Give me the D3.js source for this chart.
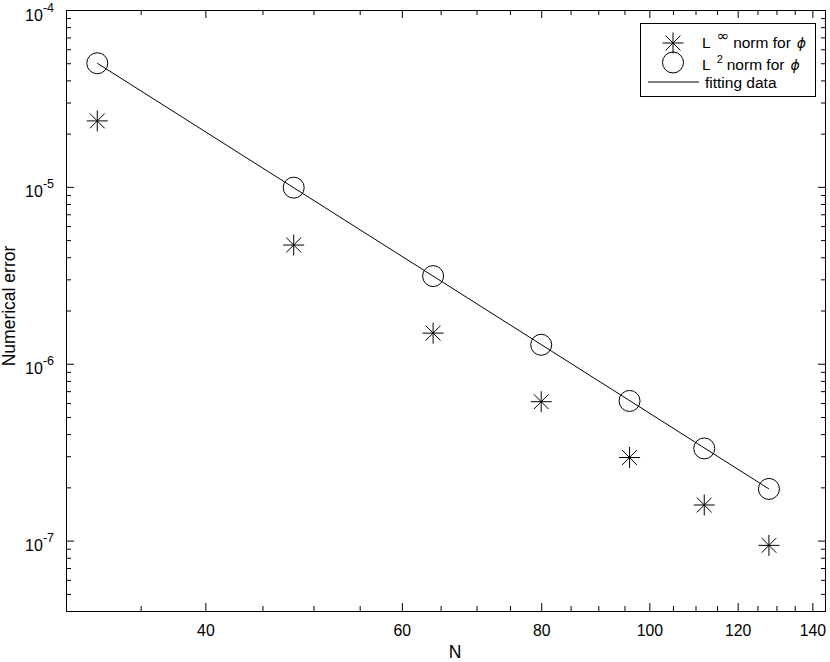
<!DOCTYPE html>
<html><head><meta charset="utf-8">
<script src="https://cdn.jsdelivr.net/npm/d3@7"></script>
<style>
body{margin:0;background:#fff}
text{font-family:"Liberation Sans",Arial,Helvetica,sans-serif;fill:#000}
</style>
</head><body>
<svg id="chart" width="830" height="662"></svg>
<script>
// ---- data ----
const N = [32, 48, 64, 80, 96, 112, 128];
const linfErr = [2.36e-5, 4.69e-6, 1.49e-6, 6.1e-7, 2.95e-7, 1.59e-7, 9.4e-8];
const l2Err = [5.0e-5, 9.9e-6, 3.13e-6, 1.28e-6, 6.16e-7, 3.32e-7, 1.96e-7];
const fitN = [32, 128];
const fitErr = [5.0e-5, 1.96e-7];
const xTickValues = [40, 60, 80, 100, 120, 140];
const xTickLabels = ["40", "60", "80", "100", "120", "140"];
const xMinorTicks = [35, 45, 50, 55, 65, 70, 75, 85, 90, 95, 105, 110, 115, 125, 130, 135];
const yTickExponents = [-7, -6, -5, -4];
const xDomain = [30, 144];
const yDomain = [4e-8, 1e-4];
const legendLabels = ["L|\u221E|norm for|\u03D5", "L|2|norm for|\u03D5", "fitting data"];
const xLabel = "N";
const yLabel = "Numerical error";

// ---- layout ----
const svg = d3.select("#chart");
const L = 66, R = 826, T = 10, B = 611;
const x = d3.scaleLog().domain(xDomain).range([L, R]);
const y = d3.scaleLog().domain(yDomain).range([B, T]);
const FS = 15.8;

const yMajor = yTickExponents.map(e => Math.pow(10, e));
const yMinor = [];
for (let e = -8; e <= -5; e++) for (let m = 2; m <= 9; m++) {
  const v = m * Math.pow(10, e);
  if (v > yDomain[0] * 1.0001 && v < yDomain[1] * 0.9999) yMinor.push(v);
}

function styleAxis(g) {
  g.select(".domain").remove();
  g.selectAll(".tick line").attr("stroke", "#000").attr("stroke-width", 1);
}
const MAJ = 8, MIN = 5;
// bottom
svg.append("g").attr("transform", `translate(0,${B})`)
  .call(d3.axisBottom(x).tickValues(xTickValues).tickSize(-MAJ).tickPadding(14)
    .tickFormat((d, i) => xTickLabels[i]))
  .call(styleAxis)
  .call(g => g.selectAll(".tick text").attr("font-size", FS).attr("font-family", null));
svg.append("g").attr("transform", `translate(0,${B})`)
  .call(d3.axisBottom(x).tickValues(xMinorTicks).tickSize(-MIN).tickFormat(""))
  .call(styleAxis);
// top
svg.append("g").attr("transform", `translate(0,${T})`)
  .call(d3.axisTop(x).tickValues(xTickValues).tickSize(-MAJ).tickFormat(""))
  .call(styleAxis);
svg.append("g").attr("transform", `translate(0,${T})`)
  .call(d3.axisTop(x).tickValues(xMinorTicks).tickSize(-MIN).tickFormat(""))
  .call(styleAxis);
// left
svg.append("g").attr("transform", `translate(${L},0)`)
  .call(d3.axisLeft(y).tickValues(yMajor).tickSize(-MAJ).tickFormat(""))
  .call(styleAxis);
svg.append("g").attr("transform", `translate(${L},0)`)
  .call(d3.axisLeft(y).tickValues(yMinor).tickSize(-MIN).tickFormat(""))
  .call(styleAxis);
// right
svg.append("g").attr("transform", `translate(${R},0)`)
  .call(d3.axisRight(y).tickValues(yMajor).tickSize(-MAJ).tickFormat(""))
  .call(styleAxis);
svg.append("g").attr("transform", `translate(${R},0)`)
  .call(d3.axisRight(y).tickValues(yMinor).tickSize(-MIN).tickFormat(""))
  .call(styleAxis);

// y tick labels 10^k
yTickExponents.forEach(e => {
  const t = svg.append("text").attr("x", 54).attr("y", y(Math.pow(10, e)) + 10.5)
    .attr("text-anchor", "end").attr("font-size", 16);
  t.append("tspan").text("10");
  t.append("tspan").attr("dy", -9).attr("font-size", 12.5).text(String(e));
});

// box
svg.append("rect").attr("x", L + 0.5).attr("y", T + 0.5)
  .attr("width", R - L - 1).attr("height", B - T)
  .attr("fill", "none").attr("stroke", "#000").attr("stroke-width", 1);

// axis labels
svg.append("text").attr("x", (L + R) / 2 + 9).attr("y", 658).attr("text-anchor", "middle")
  .attr("font-size", 17.5).text(xLabel);
svg.append("text").attr("transform", `translate(14.5,306) rotate(-90)`)
  .attr("text-anchor", "middle").attr("font-size", 17.5).text(yLabel);

// fitting line
const line = d3.line().x((d, i) => x(fitN[i])).y(d => y(d));
svg.append("path").datum(fitErr).attr("d", line)
  .attr("fill", "none").attr("stroke", "#000").attr("stroke-width", 1);

// star marker
function star(g, cx, cy, r) {
  const d = r * Math.SQRT1_2;
  const p = `M${cx - r},${cy}L${cx + r},${cy}M${cx},${cy - r}L${cx},${cy + r}` +
    `M${cx - d},${cy - d}L${cx + d},${cy + d}M${cx - d},${cy + d}L${cx + d},${cy - d}`;
  g.append("path").attr("d", p).attr("stroke", "#000").attr("stroke-width", 1).attr("fill", "none");
}
const gStars = svg.append("g");
linfErr.forEach((v, i) => star(gStars, x(N[i]), y(v), 10.5));
svg.append("g").selectAll("circle").data(l2Err).join("circle")
  .attr("cx", (d, i) => x(N[i])).attr("cy", d => y(d)).attr("r", 10.5)
  .attr("fill", "none").attr("stroke", "#000").attr("stroke-width", 1);

// legend
const lg = svg.append("g");
lg.append("rect").attr("x", 640.5).attr("y", 23.5).attr("width", 175).attr("height", 73)
  .attr("fill", "#fff").attr("stroke", "#000").attr("stroke-width", 1);
const rowY = [43, 62.5, 82];
star(lg, 673, rowY[0], 10.5);
lg.append("circle").attr("cx", 673).attr("cy", rowY[1]).attr("r", 10.5)
  .attr("fill", "none").attr("stroke", "#000");
lg.append("line").attr("x1", 648).attr("x2", 699).attr("y1", rowY[2]).attr("y2", rowY[2])
  .attr("stroke", "#000");
legendLabels.forEach((lab, i) => {
  const parts = lab.split("|");
  const t = lg.append("text").attr("x", i === 2 ? 705 : 702).attr("y", rowY[i] + (i === 2 ? 6 : [5, 7][i]))
    .attr("font-size", 15.5);
  if (parts.length === 1) { t.text(lab); return; }
  t.append("tspan").text(parts[0]);
  if (i === 0) {
    t.append("tspan").attr("dx", 6).attr("dy", -7).attr("font-size", 15)
      .attr("font-family", "'DejaVu Sans',sans-serif").text(parts[1]);
  } else {
    t.append("tspan").attr("dx", 6).attr("dy", -7).attr("font-size", 11).text(parts[1]);
  }
  t.append("tspan").attr("dx", 4).attr("dy", 7).text(parts[2]);
  t.append("tspan").attr("dx", 6).attr("font-style", "italic").attr("font-size", 14)
    .attr("font-family", "'DejaVu Sans',sans-serif").text(parts[3]);
});
</script>
</body></html>
